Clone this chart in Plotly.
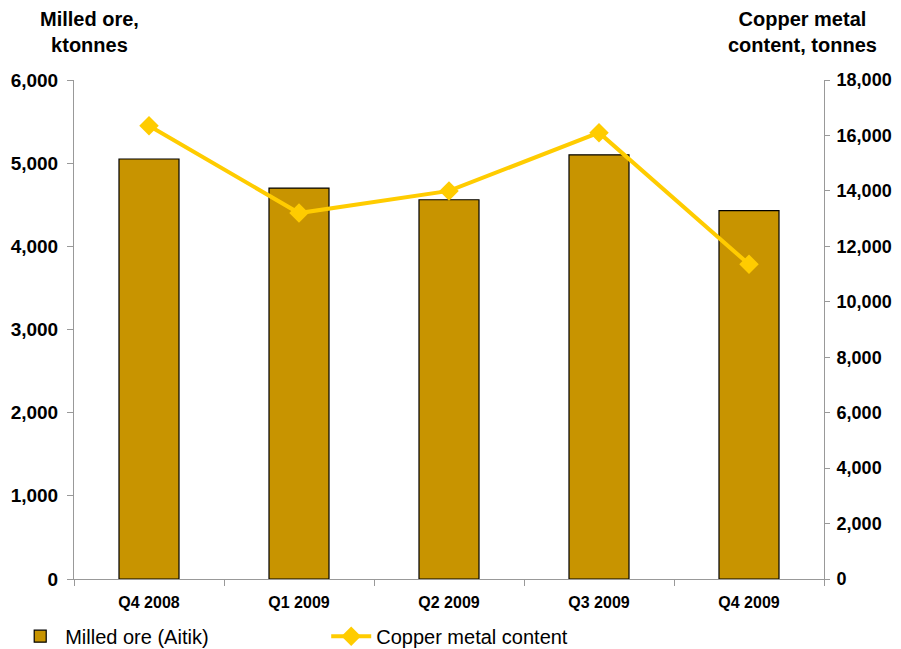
import plotly.graph_objects as go

categories = ["Q4 2008", "Q1 2009", "Q2 2009", "Q3 2009", "Q4 2009"]
milled_ore = [5050, 4700, 4560, 5100, 4430]
copper_content = [16350, 13200, 14000, 16100, 11350]
left_ticks = [0, 1000, 2000, 3000, 4000, 5000, 6000]
right_ticks = [0, 2000, 4000, 6000, 8000, 10000, 12000, 14000, 16000, 18000]

FONT = "Liberation Sans, Arial, sans-serif"

fig = go.Figure()
fig.add_trace(go.Bar(
    x=categories, y=milled_ore, name="Milled ore (Aitik)",
    marker=dict(color="#C89400", line=dict(color="#000000", width=1.2)),
    width=0.4, yaxis="y",
))
fig.add_trace(go.Scatter(
    x=categories, y=copper_content, name="Copper metal content",
    mode="lines+markers",
    line=dict(color="#FFCC00", width=4),
    marker=dict(symbol="diamond", size=15, color="#FFCC00"),
    yaxis="y2",
))

fig.update_layout(
    width=901, height=649,
    margin=dict(l=66, r=85, t=72, b=78, autoexpand=False),
    plot_bgcolor="white", paper_bgcolor="white",
    font=dict(family=FONT, color="black"),
    showlegend=True,
    legend=dict(
        orientation="h", xref="container", yref="container",
        x=0.008, y=0.002, xanchor="left", yanchor="bottom",
        font=dict(size=20, family=FONT), entrywidth=256, entrywidthmode="pixels",
        itemwidth=40, bgcolor="rgba(0,0,0,0)",
    ),
    xaxis=dict(
        showline=True, linecolor="#999999", linewidth=1,
        ticks="outside", tickson="boundaries", ticklen=6, tickcolor="#999999",
        tickfont=dict(size=16, family=FONT, weight="bold"),
        ticklabelstandoff=9,
        showgrid=False, range=[-0.5, 4.5],
    ),
    yaxis=dict(
        range=[0, 6000], tickvals=left_ticks, tickformat=",",
        showline=True, linecolor="#999999", linewidth=1,
        ticks="outside", ticklen=6, tickcolor="#999999",
        tickfont=dict(size=19, family=FONT, weight="bold"),
        ticklabelstandoff=5,
        showgrid=False, zeroline=False,
    ),
    yaxis2=dict(
        range=[0, 18000], tickvals=right_ticks, tickformat=",",
        overlaying="y", side="right",
        showline=True, linecolor="#999999", linewidth=1,
        ticks="outside", ticklen=5, tickcolor="#999999",
        tickfont=dict(size=18, family=FONT, weight="bold"),
        ticklabelstandoff=3,
        showgrid=False, zeroline=False,
    ),
    yaxis3=dict(
        range=[0, 18000], tickvals=right_ticks,
        overlaying="y", side="right", anchor="x",
        showline=False, ticks="inside", ticklen=5, tickcolor="#999999",
        showticklabels=False, showgrid=False, zeroline=False,
    ),
    annotations=[
        dict(text="Milled ore,<br>ktonnes", xref="paper", yref="paper",
             x=0.02, y=1.0, xanchor="center", yanchor="bottom", yshift=22,
             showarrow=False, font=dict(size=20, family=FONT, weight="bold")),
        dict(text="Copper metal<br>content, tonnes", xref="paper", yref="paper",
             x=0.971, y=1.0, xanchor="center", yanchor="bottom", yshift=22,
             showarrow=False, font=dict(size=20, family=FONT, weight="bold")),
    ],
)

fig.write_html("out.html")
